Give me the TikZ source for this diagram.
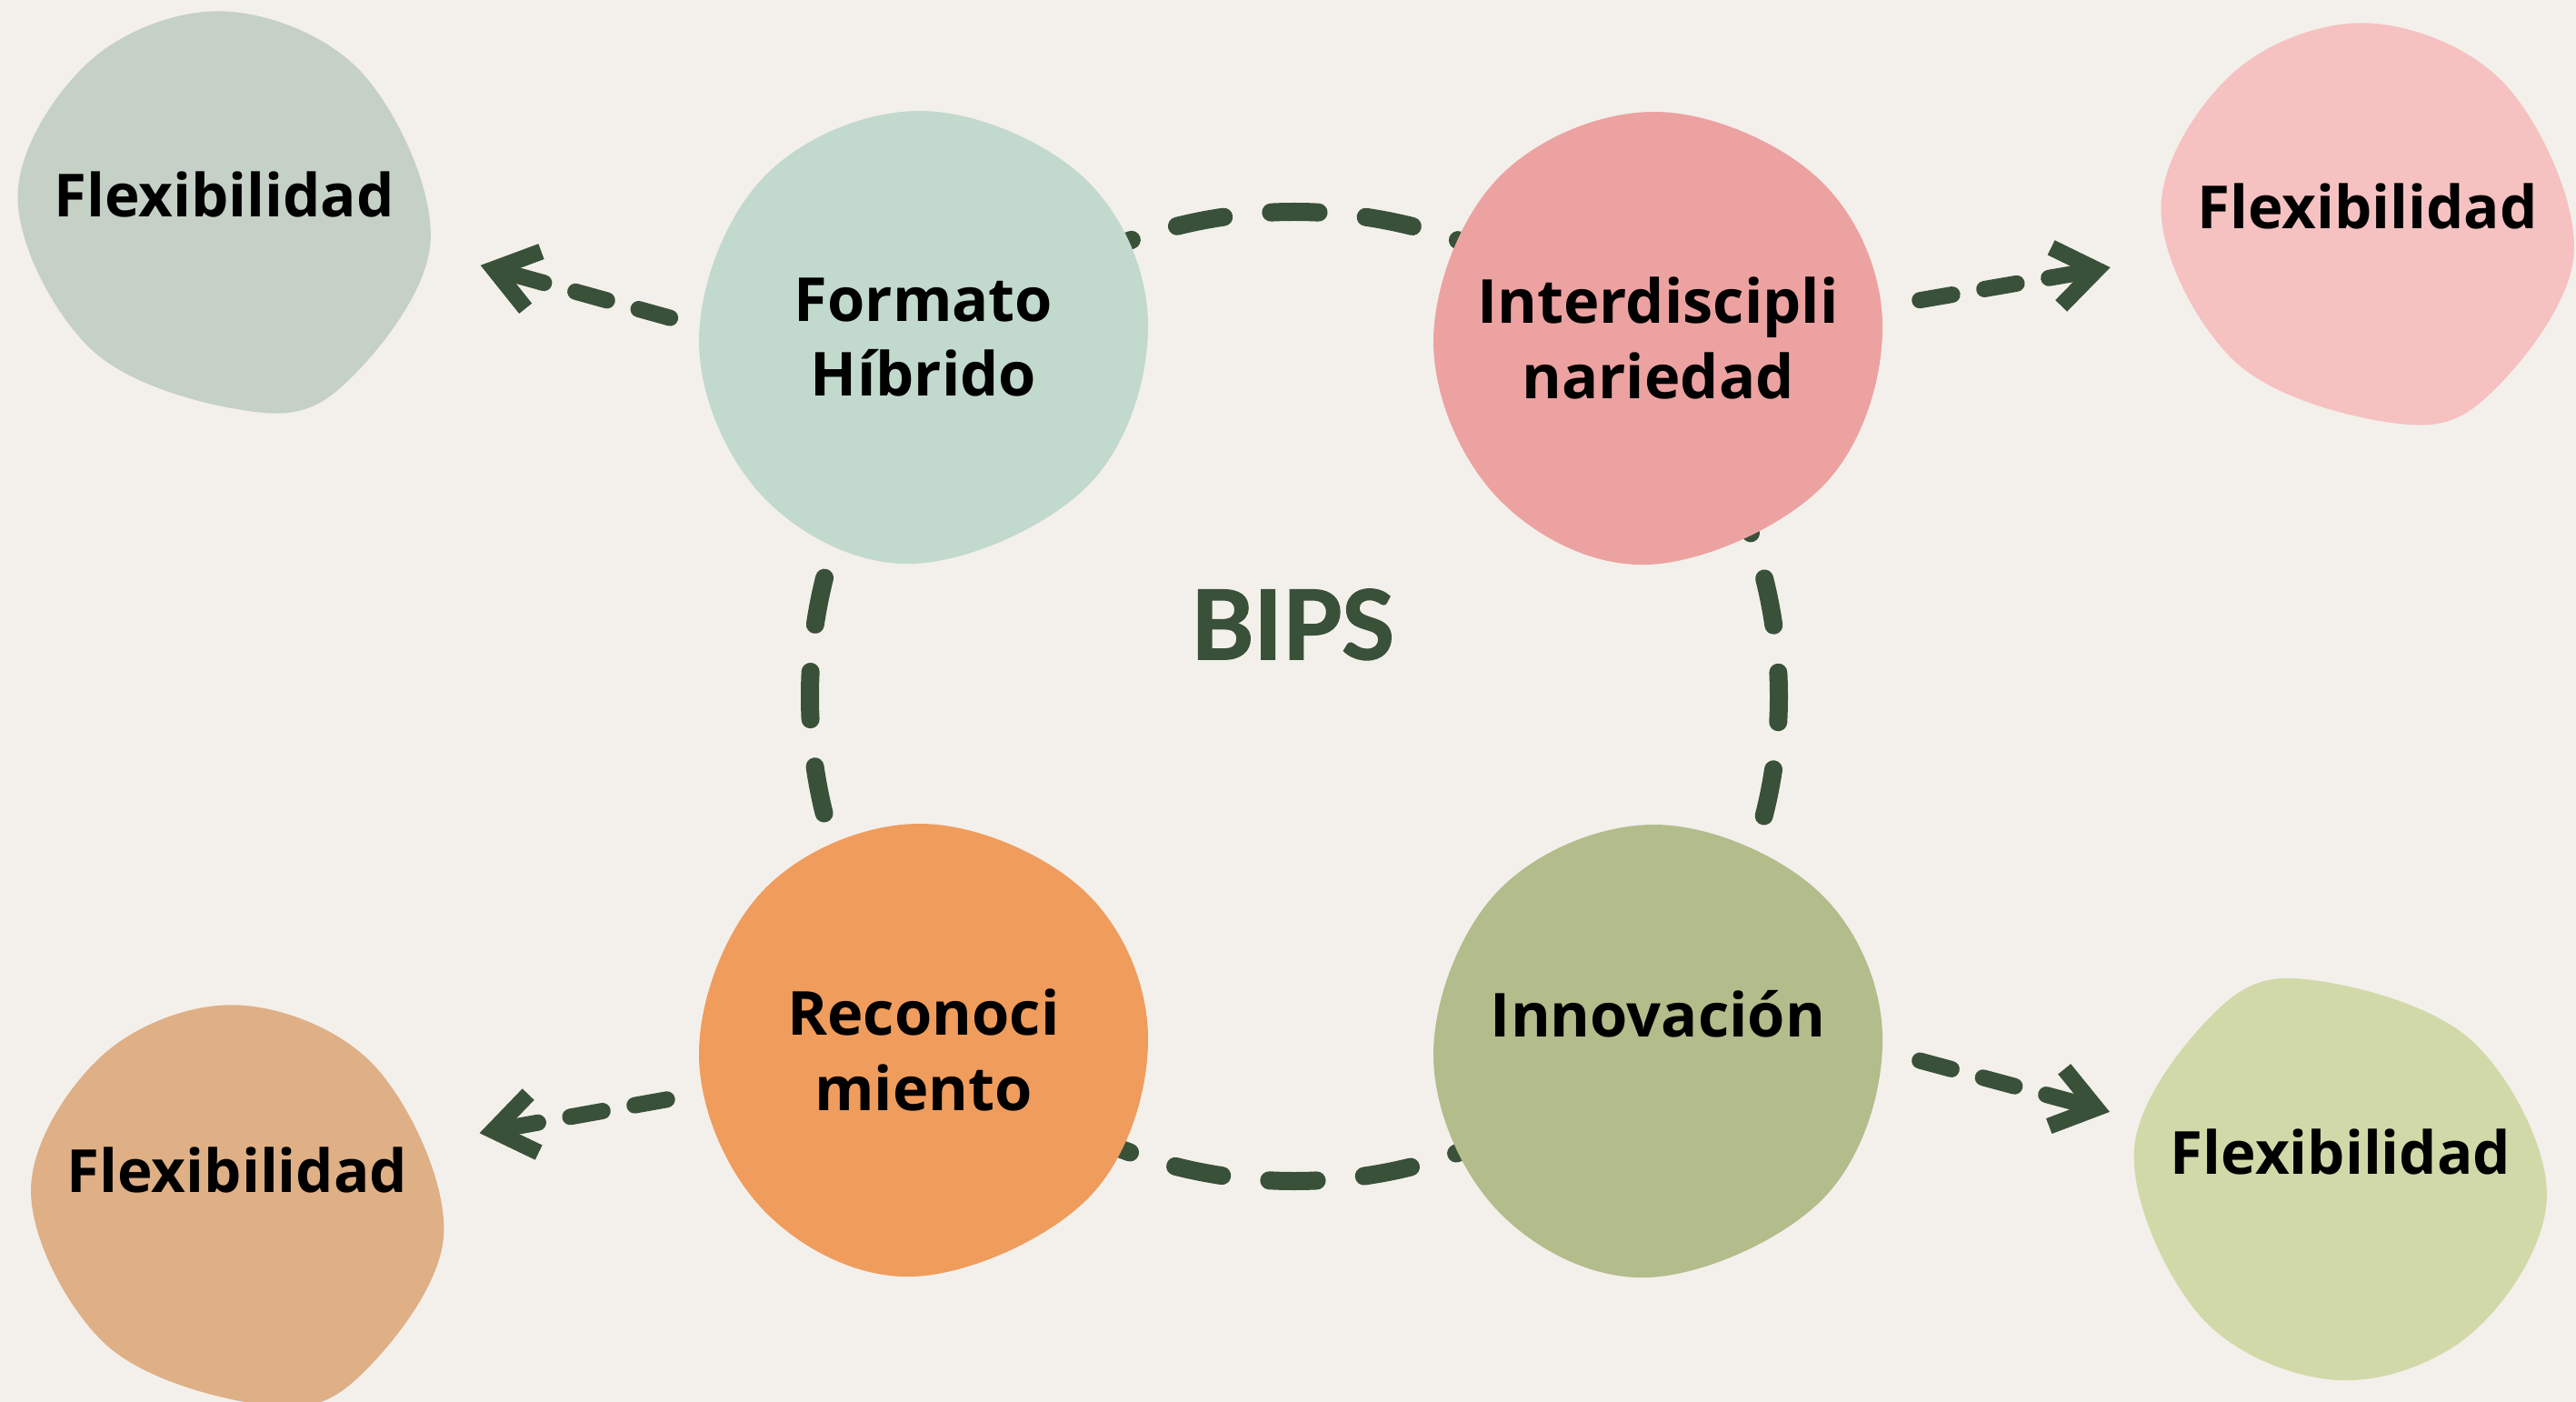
\documentclass[tikz,border=0pt]{standalone}
\usepackage{fontspec}
\setmainfont{Open Sans}
\newfontfamily\bipsfont{Lato}[FakeBold=1.6]
\usetikzlibrary{arrows.meta,backgrounds}

\definecolor{bgcol}{RGB}{243,240,235}
\definecolor{ink}{RGB}{58,81,57}
\definecolor{fmtcol}{RGB}{194,217,205}
\definecolor{intercol}{RGB}{236,162,161}
\definecolor{reconcol}{RGB}{239,156,93}
\definecolor{innocol}{RGB}{179,188,139}
\definecolor{ulcol}{RGB}{197,208,198}
\definecolor{urcol}{RGB}{245,193,193}
\definecolor{llcol}{RGB}{223,175,134}
\definecolor{lrcol}{RGB}{209,217,169}

\begin{document}
\begin{tikzpicture}[
    bigblob/.style={circle, minimum size=4.98cm, inner sep=0pt, outer sep=0pt, align=center,
        font=\bfseries\fontsize{19pt}{23.6pt}\selectfont},
    smallblob/.style={circle, minimum size=4.4cm, inner sep=0pt, outer sep=0pt, text height=0.51cm,
        font=\bfseries\fontsize{18.6pt}{23pt}\selectfont},
    title/.style={anchor=base, text=ink, font=\bipsfont\bfseries\fontsize{30pt}{36pt}\selectfont},
    ring/.style={draw=ink, line width=0.2cm, line cap=round, dash pattern=on 0.523cm off 0.523cm, dash phase=0.26cm},
    flow/.style={draw=ink, line width=0.18cm, line cap=round,
        dash pattern=on 0.36cm off 0.36cm on 0.36cm off 0.36cm on 1cm off 0.36cm,
        -{Straight Barb[length=0.45cm, width=0.65cm]}}
]

    \useasboundingbox (0, 0) rectangle (28.34, -15.42);

    \node[smallblob, text depth=0.36cm] (flexul) at (2.465, -2.315) {Flexibilidad};
    \node[smallblob, text depth=0.36cm] (flexur) at (26.045, -2.445) {Flexibilidad};
    \node[smallblob, text depth=0.78cm] (flexll) at (2.61, -13.245) {Flexibilidad};
    \node[smallblob, text depth=0.67cm] (flexlr) at (25.75, -12.99) {Flexibilidad};

    \node[bigblob] (fmt) at (10.16, -3.71) {Formato\\Híbrido};
    \node[bigblob] (inter) at (18.24, -3.72) {Interdiscipli\\nariedad};
    \node[bigblob] (recon) at (10.16, -11.55) {Reconoci\\miento};
    \node[bigblob] (inno) at (18.24, -11.56) {Innovación\\~};

    \node[title] (bips) at (14.22, -7.25) {BIPS};
    \coordinate (hub) at (14.24, -7.66);

    \draw[flow, shorten <=0.313cm, shorten >=0.687cm] (fmt.177.8) -- (flexul.-11.83);
    \draw[flow, shorten <=0.422cm, shorten >=0.672cm] (inter.8.42) -- (flexur.190.76);
    \draw[flow, shorten <=0.385cm, shorten >=0.582cm] (recon.191.53) -- (flexll.18.57);
    \draw[flow, shorten <=0.405cm, shorten >=0.452cm] (inno.-0.26) -- (flexlr.163.95);

    \begin{scope}[on background layer]
        \fill[bgcol] (0, 0) rectangle (28.34, -15.42);
        \draw[ring] (hub) circle (5.33);

        \fill[ulcol, shift={(flexul)}] plot[smooth cycle, tension=0.6] coordinates {(0.02, 2.19) (1.54, 1.49) (2.27, -0.36) (1.27, -1.96) (0.17, -2.19) (-1.47, -1.52) (-2.27, 0.15) (-1.47, 1.65)};
        \fill[urcol, shift={(flexur)}] plot[smooth cycle, tension=0.6] coordinates {(0.02, 2.19) (1.54, 1.49) (2.27, -0.36) (1.27, -1.96) (0.17, -2.19) (-1.47, -1.52) (-2.27, 0.15) (-1.47, 1.65)};
        \fill[llcol, shift={(flexll)}] plot[smooth cycle, tension=0.6] coordinates {(0.02, 2.19) (1.54, 1.49) (2.27, -0.36) (1.27, -1.96) (0.17, -2.19) (-1.47, -1.52) (-2.27, 0.15) (-1.47, 1.65)};
        \fill[lrcol, shift={(flexlr)}, rotate=180] plot[smooth cycle, tension=0.6] coordinates {(0.02, 2.19) (1.54, 1.49) (2.27, -0.36) (1.27, -1.96) (0.17, -2.19) (-1.47, -1.52) (-2.27, 0.15) (-1.47, 1.65)};

        \fill[fmtcol, shift={(fmt)}] plot[smooth cycle, tension=0.62] coordinates {(-0.04, 2.49) (1.76, 1.76) (2.47, 0.16) (1.82, -1.62) (-0.11, -2.49) (-1.76, -1.76) (-2.47, -0.04) (-1.76, 1.76)};
        \fill[intercol, shift={(inter)}] plot[smooth cycle, tension=0.62] coordinates {(-0.04, 2.49) (1.76, 1.76) (2.47, 0.16) (1.82, -1.62) (-0.11, -2.49) (-1.76, -1.76) (-2.47, -0.04) (-1.76, 1.76)};
        \fill[reconcol, shift={(recon)}] plot[smooth cycle, tension=0.62] coordinates {(-0.04, 2.49) (1.76, 1.76) (2.47, 0.16) (1.82, -1.62) (-0.11, -2.49) (-1.76, -1.76) (-2.47, -0.04) (-1.76, 1.76)};
        \fill[innocol, shift={(inno)}] plot[smooth cycle, tension=0.62] coordinates {(-0.04, 2.49) (1.76, 1.76) (2.47, 0.16) (1.82, -1.62) (-0.11, -2.49) (-1.76, -1.76) (-2.47, -0.04) (-1.76, 1.76)};
    \end{scope}

\end{tikzpicture}
\end{document}
